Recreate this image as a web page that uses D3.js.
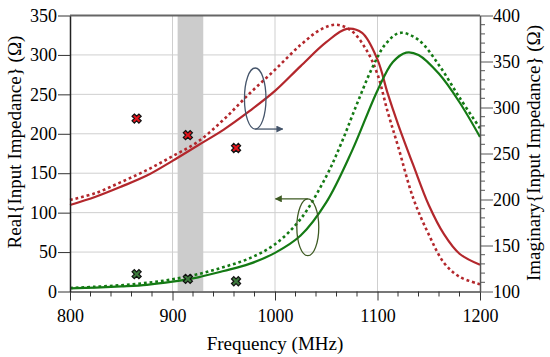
<!DOCTYPE html>
<html>
<head>
<meta charset="utf-8">
<script src="https://cdn.jsdelivr.net/npm/d3@7"></script>
<style>
  body { margin: 0; background: #fff; }
  svg text { font-family: "Liberation Serif", Tinos, "Times New Roman", "DejaVu Serif", serif; fill: #000; }
</style>
</head>
<body>
<div id="main"></div>
<script>
// frequency grid in MHz, impedances in ohm
var realSolidF = [800, 825, 850, 875, 900, 925, 950, 975, 1000, 1025, 1050, 1075, 1100, 1115, 1128, 1140, 1160, 1180, 1200];
var realSolidV = [4, 5, 6.5, 8.5, 12.5, 18, 26, 35, 49, 71, 113, 178, 255, 291, 303, 300, 276, 240, 196];

var realDotF = [800, 825, 850, 875, 900, 925, 950, 975, 1000, 1025, 1050, 1065, 1080, 1095, 1108, 1122, 1140, 1160, 1180, 1200];
var realDotV = [4.5, 6, 8, 11, 15.5, 22, 31, 42, 60, 92, 146, 189, 238, 284, 314, 328, 319, 287, 246, 207];

var imagSolidF = [800, 825, 850, 875, 900, 925, 950, 975, 1000, 1025, 1050, 1070, 1085, 1100, 1110, 1120, 1135, 1150, 1165, 1180, 1200];
var imagSolidV = [194, 203, 214, 226, 242, 259, 276, 296, 318, 345, 371, 385.5, 381, 352, 315, 282, 237, 194, 162, 141, 129];

var imagDotF = [800, 825, 850, 875, 900, 925, 950, 975, 1000, 1025, 1045, 1060, 1075, 1090, 1100, 1110, 1120, 1135, 1150, 1165, 1180, 1200];
var imagDotV = [199.5, 207, 219, 232, 247, 263, 287, 315, 341, 368, 385, 390, 383, 361, 336, 295, 258, 201, 162, 131, 116, 108];

// measured points
var measF = [865, 915, 962];
var measReal = [22, 16, 13];
var measImag = [288, 270, 256];

// shaded band (MHz)
var band = [905, 930];

var xTicks = [800, 900, 1000, 1100, 1200];
var yLeftTicks = [0, 50, 100, 150, 200, 250, 300, 350];
var yRightTicks = [100, 150, 200, 250, 300, 350, 400];

var red = "#b3272c", green = "#147a14";
var serif = "'Liberation Serif', Tinos, 'Times New Roman', 'DejaVu Serif', serif";

var svg = d3.select("#main").append("svg")
    .attr("width", 550)
    .attr("height", 357);

var x = d3.scaleLinear().domain([800, 1200]).range([70, 480]);
var yL = d3.scaleLinear().domain([0, 350]).range([291.5, 15.5]);
var yR = d3.scaleLinear().domain([100, 400]).range([291.5, 15.5]);

// grid
svg.append("g").selectAll("line").data(yLeftTicks.slice(1, -1)).join("line")
    .attr("x1", 70).attr("x2", 480)
    .attr("y1", d => yL(d)).attr("y2", d => yL(d))
    .attr("stroke", "#cfcfcf").attr("stroke-width", 1);
svg.append("g").selectAll("line").data(xTicks.slice(1, -1)).join("line")
    .attr("x1", d => x(d)).attr("x2", d => x(d))
    .attr("y1", 15.5).attr("y2", 291.5)
    .attr("stroke", "#cfcfcf").attr("stroke-width", 1);

// gray band
svg.append("rect")
    .attr("x", x(band[0])).attr("width", x(band[1]) - x(band[0]))
    .attr("y", 15.5).attr("height", 276)
    .attr("fill", "#cccccc");

// curves
function drawCurve(fs, vs, ys, color, dotted) {
  var line = d3.line()
      .x(d => x(d[0]))
      .y(d => ys(d[1]))
      .curve(d3.curveCatmullRom.alpha(0.5));
  svg.append("path")
      .attr("d", line(d3.zip(fs, vs)))
      .attr("fill", "none")
      .attr("stroke", color)
      .attr("stroke-width", dotted ? 2.6 : 2.2)
      .attr("stroke-dasharray", dotted ? "2.8,2.9" : null);
}
drawCurve(imagDotF, imagDotV, yR, red, true);
drawCurve(imagSolidF, imagSolidV, yR, red, false);
drawCurve(realDotF, realDotV, yL, green, true);
drawCurve(realSolidF, realSolidV, yL, green, false);

// markers
var cross = d3.symbol().type(d3.symbolCross).size(52);
svg.append("g").selectAll("path").data(d3.zip(measF, measImag)).join("path")
    .attr("d", cross)
    .attr("transform", d => "translate(" + x(d[0]) + "," + yR(d[1]) + ") rotate(45)")
    .attr("fill", "#e3141c").attr("stroke", "#111").attr("stroke-width", 1.2);
svg.append("g").selectAll("path").data(d3.zip(measF, measReal)).join("path")
    .attr("d", cross)
    .attr("transform", d => "translate(" + x(d[0]) + "," + yL(d[1]) + ") rotate(45)")
    .attr("fill", "#3c7a3c").attr("stroke", "#111").attr("stroke-width", 1.2);

// ellipse + arrow pointers (MHz / left-axis units)
var defs = svg.append("defs");
function marker(id, color) {
  defs.append("marker").attr("id", id)
      .attr("viewBox", "0 0 10 10").attr("refX", 9).attr("refY", 5)
      .attr("markerWidth", 7).attr("markerHeight", 7).attr("orient", "auto")
      .attr("markerUnits", "userSpaceOnUse")
    .append("path").attr("d", "M0,0L10,5L0,10z").attr("fill", color);
}
marker("arBlue", "#44546a");
marker("arGreen", "#3d5a22");

var notes = [
  {cx: 980.7, cy: 244.7, rf: 10.5, rv: 38.7, ay: 206, fromX: 980.7, toX: 1007.5, color: "#44546a", m: "arBlue"},
  {cx: 1032, cy: 81.4, rf: 10.7, rv: 36, ay: 117.5, fromX: 1032, toX: 1000.5, color: "#3d5a22", m: "arGreen"}
];
notes.forEach(function (n) {
  svg.append("ellipse")
      .attr("cx", x(n.cx)).attr("cy", yL(n.cy))
      .attr("rx", x(800 + n.rf) - x(800)).attr("ry", yL(0) - yL(n.rv))
      .attr("fill", "none").attr("stroke", n.color).attr("stroke-width", 1.3);
  svg.append("line")
      .attr("x1", x(n.fromX)).attr("x2", x(n.toX))
      .attr("y1", yL(n.ay)).attr("y2", yL(n.ay))
      .attr("stroke", n.color).attr("stroke-width", 1.3)
      .attr("marker-end", "url(#" + n.m + ")");
});

// axes
var gx = svg.append("g").attr("transform", "translate(0,291.5)")
    .call(d3.axisBottom(x).tickValues(xTicks).tickFormat(d3.format("d")).tickSize(9).tickSizeOuter(0).tickPadding(9));
svg.append("g").attr("transform", "translate(0,291.5)").selectAll("line")
    .data(d3.range(820, 1200, 20).filter(d => d % 100 !== 0)).join("line")
    .attr("x1", d => x(d)).attr("x2", d => x(d))
    .attr("y1", 0).attr("y2", 5).attr("stroke", "#333");

var gl = svg.append("g").attr("transform", "translate(70,0)")
    .call(d3.axisLeft(yL).tickValues(yLeftTicks).tickSize(12).tickSizeOuter(0).tickPadding(1));

var gr = svg.append("g").attr("transform", "translate(480,0)")
    .call(d3.axisRight(yR).tickValues(yRightTicks).tickSize(13).tickSizeOuter(0).tickPadding(0));
svg.append("g").attr("transform", "translate(480,0)").selectAll("line")
    .data(d3.range(110, 400, 10).filter(d => d % 50 !== 0)).join("line")
    .attr("x1", 0).attr("x2", 5)
    .attr("y1", d => yR(d)).attr("y2", d => yR(d)).attr("stroke", "#555");

[gx, gl, gr].forEach(function (g) {
  g.attr("font-family", serif).attr("font-size", 18);
  g.selectAll("text").attr("font-family", serif).style("font-size", "18px");
});
gx.select(".domain").attr("stroke", "#777").attr("stroke-width", 2);
gx.selectAll(".tick line").attr("stroke", "#333");
gl.select(".domain").attr("stroke", "#222").attr("stroke-width", 1.5);
gl.selectAll(".tick line").attr("stroke", "#333");
gr.select(".domain").attr("stroke", "#555").attr("stroke-width", 1.5);
gr.selectAll(".tick line").attr("stroke", "#555");

// top border
svg.append("line").attr("x1", 70).attr("x2", 480).attr("y1", 15.5).attr("y2", 15.5)
    .attr("stroke", "#666").attr("stroke-width", 2);

// titles
svg.append("text").attr("x", 275).attr("y", 350).attr("text-anchor", "middle")
    .attr("font-family", serif).style("font-size", "19px").text("Frequency (MHz)");
svg.append("text").attr("transform", "translate(21,142) rotate(-90)").attr("text-anchor", "middle")
    .attr("font-family", serif).style("font-size", "19px").text("Real{Input Impedance} (Ω)");
svg.append("text").attr("transform", "translate(540,153) rotate(-90)").attr("text-anchor", "middle")
    .attr("font-family", serif).style("font-size", "19px").text("Imaginary{Input Impedance} (Ω)");
</script>
</body>
</html>
